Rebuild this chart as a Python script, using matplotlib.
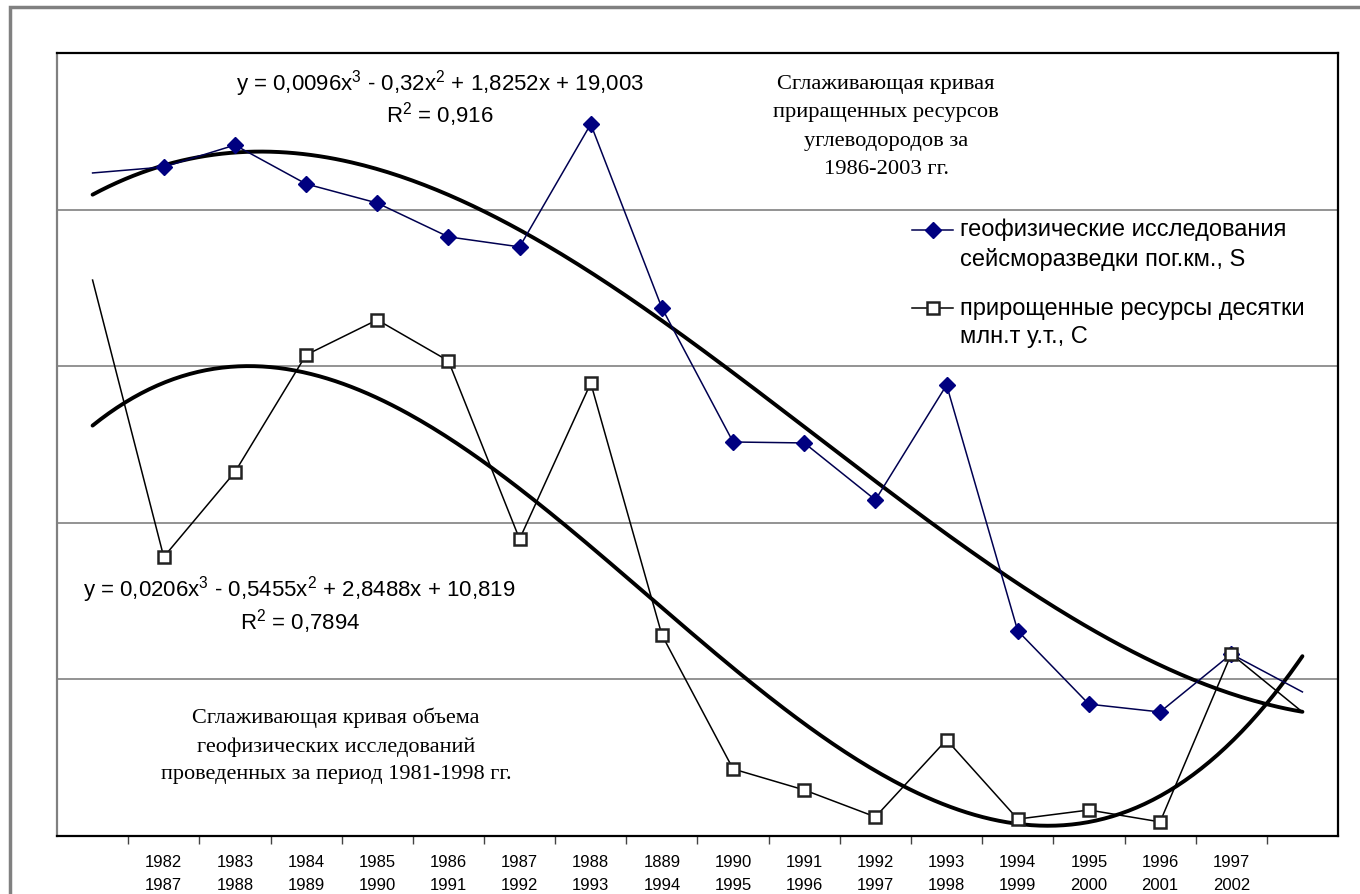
import numpy as np
import matplotlib.pyplot as plt
from matplotlib.patches import Rectangle
from matplotlib.lines import Line2D

plt.rcParams['font.family'] = ['Liberation Sans', 'DejaVu Sans']
plt.rcParams['mathtext.fontset'] = 'custom'
plt.rcParams['mathtext.rm'] = 'Liberation Sans'
plt.rcParams['mathtext.it'] = 'Liberation Sans'

# categories: first and last positions carry no label
years = ['', '1982\n1987', '1983\n1988', '1984\n1989', '1985\n1990', '1986\n1991',
         '1987\n1992', '1988\n1993', '1889\n1994', '1990\n1995', '1991\n1996',
         '1992\n1997', '1993\n1998', '1994\n1999', '1995\n2000', '1996\n2001',
         '1997\n2002', '']

# геофизические исследования сейсморазведки, S
seismic = [21.17, 21.36, 22.06, 20.82, 20.21, 19.13, 18.81, 22.73, 16.86,
           12.58, 12.55, 10.73, 14.40, 6.55, 4.21, 3.96, 5.81, 4.60]
# прирощенные ресурсы, C
resources = [17.75, 8.91, 11.62, 15.36, 16.48, 15.17, 9.48, 14.46, 6.42,
             2.14, 1.47, 0.61, 3.07, 0.54, 0.83, 0.45, 5.81, 3.96]

labels = ['геофизические исследования\nсейсморазведки пог.км., S',
          'прирощенные ресурсы десятки\nмлн.т у.т., C']

W, H = 1360, 894
fig = plt.figure(figsize=(W / 100, H / 100), dpi=100)

def fx(px):
    return px / W

def fy(py):
    return 1 - py / H

# outer chart frame
fig.patches.append(Rectangle((fx(10), -0.2), 1.2, fy(7) + 0.2, transform=fig.transFigure,
                             fill=False, edgecolor='#808080', lw=2.5))

ax = fig.add_axes([fx(57), fy(836), fx(1338) - fx(57), fy(53) - fy(836)])
x = np.arange(1, len(years) + 1)

for v in [5, 10, 15, 20]:
    ax.axhline(v, color='#808080', lw=1.2, zorder=1)

s_style = dict(color='#000050', lw=1.1, marker='D', ms=8, mfc='#000080', mec='#000080')
c_style = dict(color='black', lw=1.1, marker='s', ms=9, mfc='white', mec='#222222', mew=1.8)

ax.plot(x, seismic, markevery=slice(1, 17), zorder=3, **s_style)
ax.plot(x, resources, markevery=slice(1, 17), zorder=4, **c_style)

# cubic trendlines (polynomial fit of each series)
xs = np.linspace(1, len(years), 300)
for series in (seismic, resources):
    coef = np.polyfit(x, series, 3)
    ax.plot(xs, np.polyval(coef, xs), color='black', lw=2.8, zorder=2,
            solid_capstyle='round')

ax.set_xlim(0.5, len(years) + 0.5)
ax.set_ylim(0, 25)
ax.set_yticks([])
ax.set_xticks(np.arange(1.5, len(years) - 0.4, 1))
ax.set_xticklabels([])
ax.tick_params(axis='x', which='major', direction='out', length=6, width=1, color='#444444')
ax.set_xticks(x, minor=True)
ax.set_xticklabels(years, minor=True, fontsize=12, linespacing=1.65)
ax.tick_params(axis='x', which='minor', length=0, pad=14)

for side in ['top', 'right', 'bottom']:
    ax.spines[side].set_color('black')
    ax.spines[side].set_linewidth(1.6)
ax.spines['left'].set_color('#808080')
ax.spines['left'].set_linewidth(1.6)

# legend: handle sits on the first line of each two-line label
for row, (label, style) in enumerate(zip(labels, [s_style, c_style])):
    y0 = 230 + 78 * row
    fig.add_artist(Line2D([fx(912), fx(953)], [fy(y0), fy(y0)], transform=fig.transFigure,
                          markevery=[], **style))
    fig.add_artist(Line2D([fx(932.5)], [fy(y0)], transform=fig.transFigure, **style))
    fig.text(fx(960), fy(y0 + 15), label, ha='left', va='center', fontsize=17,
             linespacing=1.4)

fig.text(fx(440), fy(84), 'y = 0,0096x$^3$ - 0,32x$^2$ + 1,8252x + 19,003',
         ha='center', va='center', fontsize=16)
fig.text(fx(440), fy(115), 'R$^2$ = 0,916', ha='center', va='center', fontsize=16)
fig.text(fx(299), fy(590), 'y = 0,0206x$^3$ - 0,5455x$^2$ + 2,8488x + 10,819',
         ha='center', va='center', fontsize=16)
fig.text(fx(300), fy(622), 'R$^2$ = 0,7894', ha='center', va='center', fontsize=16)

fig.text(fx(886), fy(127), 'Сглаживающая кривая\nприращенных ресурсов\nуглеводородов за\n1986-2003 гг.',
         ha='center', va='center', fontsize=16.2, family='Liberation Serif', linespacing=1.68)
fig.text(fx(336), fy(746), 'Сглаживающая кривая объема\nгеофизических исследований\nпроведенных за период 1981-1998 гг.',
         ha='center', va='center', fontsize=16, family='Liberation Serif', linespacing=1.6)

fig.savefig('out.png', dpi=100)
